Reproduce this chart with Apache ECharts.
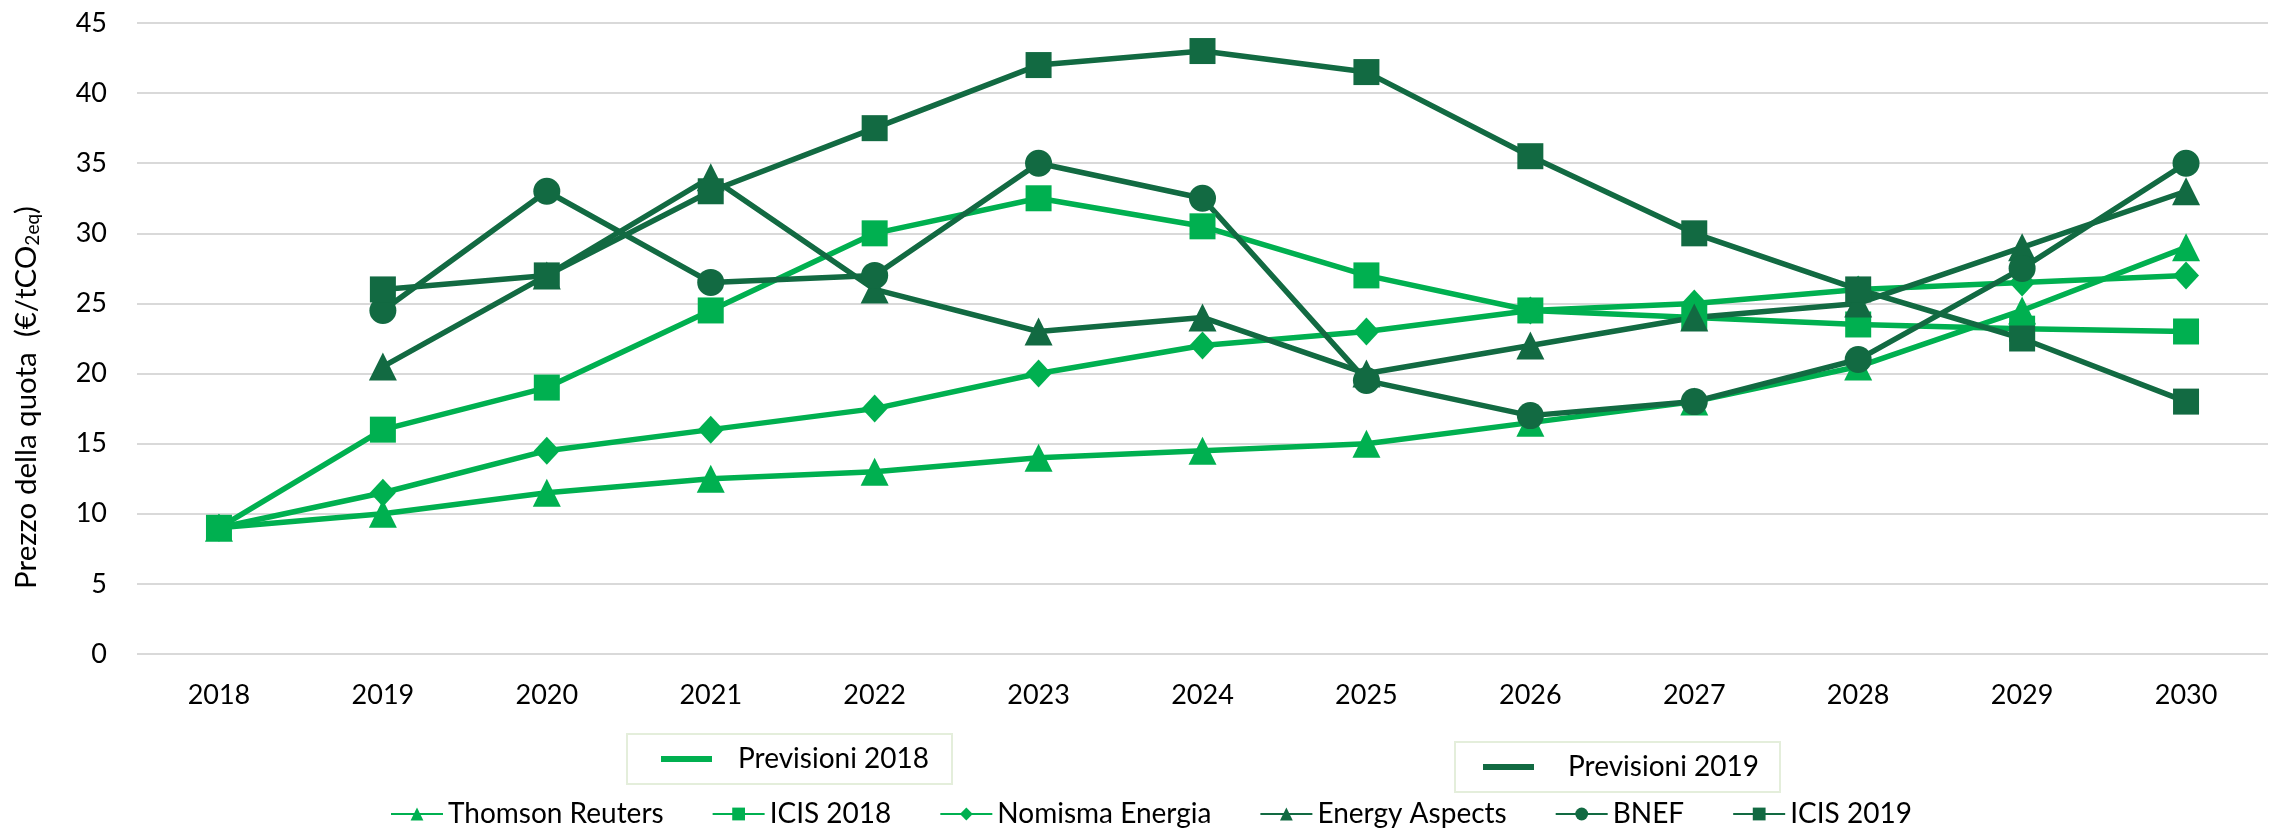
<!DOCTYPE html>
<html>
<head>
<meta charset="utf-8">
<script src="https://cdn.jsdelivr.net/npm/echarts@6/dist/echarts.min.js"></script>
<style>
html, body {
    margin: 0;
    padding: 0;
    background: #fff;
}

#chart {
    width: 2270px;
    height: 831px;
}
</style>
</head>
<body>
<div id="chart"></div>
<script>
const years = ['2018', '2019', '2020', '2021', '2022', '2023', '2024', '2025', '2026', '2027', '2028', '2029', '2030']

const thomsonReuters = [9, 10, 11.5, 12.5, 13, 14, 14.5, 15, 16.5, 18, 20.5, 24.5, 29]
const icis2018 = [9, 16, 19, 24.5, 30, 32.5, 30.5, 27, 24.5, 24, 23.5, 23.2, 23]
const nomismaEnergia = [9, 11.5, 14.5, 16, 17.5, 20, 22, 23, 24.5, 25, 26, 26.5, 27]
const energyAspects = [null, 20.5, 27, 34, 26, 23, 24, 20, 22, 24, 25, 29, 33]
const bnef = [null, 24.5, 33, 26.5, 27, 35, 32.5, 19.5, 17, 18, 21, 27.5, 35]
const icis2019 = [null, 26, 27, 33, 37.5, 42, 43, 41.5, 35.5, 30, 26, 22.5, 18]

const yTicks = { min: 0, max: 45, interval: 5 }

const light = '#00b050'
const dark = '#126a42'
const font = 'Lato'

function line (name, data, color, symbol, size) {
    return {
        name: name,
        type: 'line',
        data: data,
        color: color,
        symbol: symbol,
        symbolSize: size,
        lineStyle: { width: 5.5, color: color },
        itemStyle: { color: color },
        emphasis: { disabled: true }
    }
}

function groupLegend (name, left, top, padding, textPad) {
    return {
        data: [{ name: name, icon: 'rect' }],
        left: left,
        top: top,
        orient: 'horizontal',
        itemWidth: 51,
        itemHeight: 6,
        padding: padding,
        borderColor: '#e4eedb',
        borderWidth: 2,
        selectedMode: false,
        textStyle: {
            fontFamily: font,
            fontSize: 28,
            color: '#000',
            padding: [0, 0, 0, textPad]
        }
    }
}

const chart = echarts.init(document.getElementById('chart'))

const option = {
    animation: false,
    backgroundColor: '#fff',
    grid: {
        left: 137,
        right: 2,
        top: 23,
        bottom: 177,
        containLabel: false
    },
    xAxis: {
        type: 'category',
        data: years,
        boundaryGap: true,
        axisLine: { show: false },
        axisTick: { show: false },
        axisLabel: {
            margin: 28,
            fontFamily: font,
            fontSize: 27,
            color: '#000'
        }
    },
    yAxis: {
        type: 'value',
        min: yTicks.min,
        max: yTicks.max,
        interval: yTicks.interval,
        axisLine: { show: false },
        axisTick: { show: false },
        axisLabel: {
            margin: 30,
            fontFamily: font,
            fontSize: 27,
            color: '#000'
        },
        splitLine: {
            lineStyle: { color: '#d9d9d9', width: 2 }
        },
        name: '{a|Prezzo della quota  (€/tCO}{s|2eq}{a|)}',
        nameLocation: 'middle',
        nameGap: 94,
        nameTextStyle: {
            padding: [0, 118, 0, 0],
            rich: {
                a: { fontFamily: font, fontSize: 29.5, color: '#000', lineHeight: 34 },
                s: { fontFamily: font, fontSize: 19, color: '#000', lineHeight: 34, padding: [13, 0, 0, 0] }
            }
        }
    },
    legend: [
        {
            data: ['Thomson Reuters', 'ICIS 2018', 'Nomisma Energia', 'Energy Aspects', 'BNEF', 'ICIS 2019'],
            left: 390,
            top: 800,
            padding: 0,
            itemWidth: 52,
            itemHeight: 16,
            itemGap: 48,
            selectedMode: false,
            textStyle: {
                fontFamily: font,
                fontSize: 28,
                color: '#000'
            }
        },
        groupLegend('Previsioni 2018', 627, 734, [11, 23, 11, 34], 21),
        groupLegend('Previsioni 2019', 1455, 742, [11, 21, 11, 28], 29)
    ],
    series: [
        line('Thomson Reuters', thomsonReuters, light, 'triangle', 28),
        line('ICIS 2018', icis2018, light, 'rect', 26),
        line('Nomisma Energia', nomismaEnergia, light, 'diamond', [26, 28]),
        line('Energy Aspects', energyAspects, dark, 'triangle', 28),
        line('BNEF', bnef, dark, 'circle', 27),
        line('ICIS 2019', icis2019, dark, 'rect', 26),
        line('Previsioni 2018', [], light, 'none', 0),
        line('Previsioni 2019', [], dark, 'none', 0)
    ]
}

chart.setOption(option)
</script>
</body>
</html>
